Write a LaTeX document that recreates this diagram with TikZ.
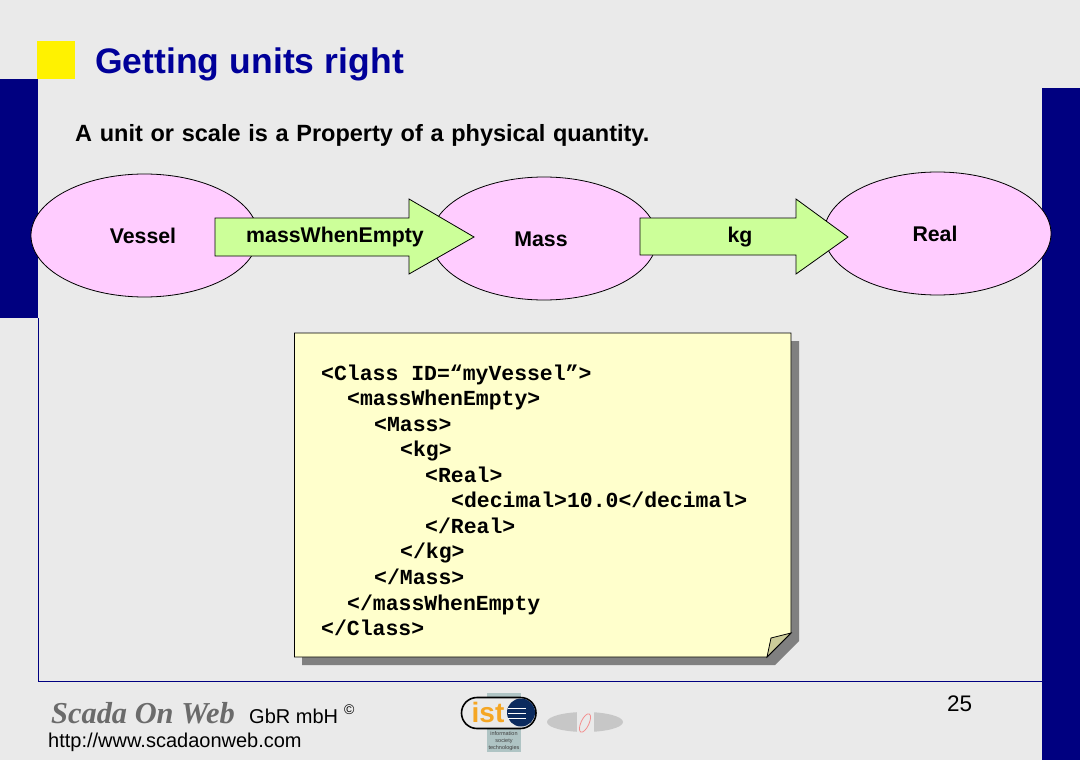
\documentclass[tikz,border=0pt]{standalone}
\usepackage{fontspec}
\setmainfont{Liberation Sans}
\newfontfamily\codefont{Liberation Mono}
\newfontfamily\logofont{Liberation Serif}
\usetikzlibrary{shapes.geometric}
\definecolor{pagebg}{HTML}{EAEAEA}
\definecolor{navy}{HTML}{000080}
\definecolor{titleblue}{HTML}{000099}
\definecolor{ovalpink}{HTML}{FFCCFF}
\definecolor{arrowgreen}{HTML}{CCFF99}
\definecolor{notefill}{HTML}{FFFFCC}
\definecolor{noteshadow}{HTML}{808080}
\definecolor{foldfill}{HTML}{CCCC99}
\definecolor{istpanel}{HTML}{AFC4C4}
\definecolor{istorange}{HTML}{F5A623}
\definecolor{istglobe}{HTML}{0B2A5E}
\tikzset{
  oval/.style={draw=black,line width=0.8pt,fill=ovalpink},
  arrowshape/.style={draw=black,line width=0.8pt,fill=arrowgreen},
  lab/.style={font=\fontsize{21.3}{24}\selectfont\bfseries,text=black,inner sep=0pt,anchor=base},
  codeline/.style={font=\fontsize{21.45}{24}\codefont\bfseries,anchor=base west,inner sep=0pt,text=black},
  foot/.style={font=\fontsize{20}{24}\selectfont,anchor=base west,inner sep=0pt,text=black},
}
\begin{document}
\begin{tikzpicture}[x=1pt,y=-1pt]
\useasboundingbox (0,0) rectangle (1080,760);
\fill[pagebg] (0,0) rectangle (1080,760);
% frame
\fill[navy] (0,79) rectangle (38,318);
\fill[navy] (1042,88) rectangle (1080,760);
\draw[navy,line width=0.8pt] (38.5,318) -- (38.5,681.5) -- (1042,681.5);
\fill[yellow] (37,41) rectangle (75,79);
\node[anchor=base west,inner sep=0pt,text=titleblue,font=\fontsize{35.5}{40}\selectfont\bfseries] (title) at (95,74) {Getting\hspace{0.5pt} units\hspace{0.5pt} right};
\node[anchor=base west,inner sep=0pt,text=black,font=\fontsize{23.5}{28}\selectfont\bfseries,execute at begin node={\spaceskip=7.7pt plus 0pt minus 0pt\relax}] (sub) at (75,142) {A unit or scale is a Property of a physical quantity.};
% ovals
\draw[oval] (144.5,235.5) ellipse [x radius=113.5,y radius=61.5];
\draw[oval] (544,238.5) ellipse [x radius=113,y radius=61.5];
\draw[oval] (937.5,233.5) ellipse [x radius=113.5,y radius=61.5];
\node[lab] (vessel) at (143,243) {Vessel};
\node[lab] (mass) at (541,246) {Mass};
\node[lab] (real) at (935,241) {Real};
% arrows
\draw[arrowshape] (215,218) -- (409,218) -- (409,199) -- (474,237) -- (409,274) -- (409,256) -- (215,256) -- cycle;
\draw[arrowshape] (640,218) -- (796,218) -- (796,199) -- (848,237) -- (796,274) -- (796,255) -- (640,255) -- cycle;
\node[lab] (lab1) at (335,242) {massWhenEmpty};
\node[lab] (lab2) at (740,242) {kg};
% note
\fill[noteshadow] (302,341) -- (799,341) -- (799,641) -- (775,665) -- (302,665) -- cycle;
\draw[black,line width=0.8pt,fill=notefill] (294.5,333) -- (791,333) -- (791,633) -- (767,657) -- (294.5,657) -- cycle;
\draw[black,line width=0.8pt,fill=foldfill] (767,657) -- (771,638) -- (791,633) -- cycle;
\foreach \i/\xx/\yy/\t in {
  a/321/380.2/{<Class ID=“myVessel”>},
  b/347/405.4/{<massWhenEmpty>},
  c/374/431.2/{<Mass>},
  d/400/456.8/{<kg>},
  e/425/482.2/{<Real>},
  f/451/507.8/{<decimal>10.0</decimal>},
  g/425/533.2/{</Real>},
  h/400/558.8/{</kg>},
  i/374/584.6/{</Mass>},
  j/347/610/{</massWhenEmpty},
  k/321/635.8/{</Class>}}{
  \node[codeline] (code\i) at (\xx,\yy) {\t};
}
% footer
\node[anchor=base west,inner sep=0pt,text=black!58,font=\fontsize{30.4}{34}\logofont\itshape\bfseries] (logo) at (51,723) {Scada On Web};
\node[foot] (gbr) at (249,723) {GbR mbH};
\node[anchor=base west,inner sep=0pt,text=black,font=\fontsize{14}{16}\selectfont] (copy) at (344,714) {©};
\node[foot] (url) at (48,747) {http://www.scadaonweb.com};
\node[anchor=base west,inner sep=0pt,text=black,font=\fontsize{22.5}{24}\selectfont] (page) at (947,711.5) {25};
% ist logo
\fill[istpanel] (487,693) rectangle (521,752);
\draw[black,line width=1.6pt,fill=pagebg,rounded corners=15.5pt] (461.5,697.5) rectangle (536,728.5);
\fill[istglobe] (521,712.5) circle (14);
\foreach \yy in {708,713,718}{\draw[white,line width=0.7pt] (508,\yy) -- (526,\yy);}
\node[inner sep=0pt,anchor=base,text=istorange,font=\fontsize{28}{30}\selectfont\bfseries] (ist) at (488,722) {ist};
\node[inner sep=0pt,align=center,text=black!75,font=\fontsize{5.5}{6.8}\selectfont] (isttxt) at (504,741) {information\\society\\technologies};
% gray oval with clip
\fill[black!22] (585,722) ellipse [x radius=38,y radius=10];
\fill[pagebg] (577,711) rectangle (593.5,733);
\draw[red!40!pagebg,line width=0.8pt,rotate around={-25:(585,723)}] (585,723) ellipse [x radius=4,y radius=10];
\end{tikzpicture}
\end{document}
